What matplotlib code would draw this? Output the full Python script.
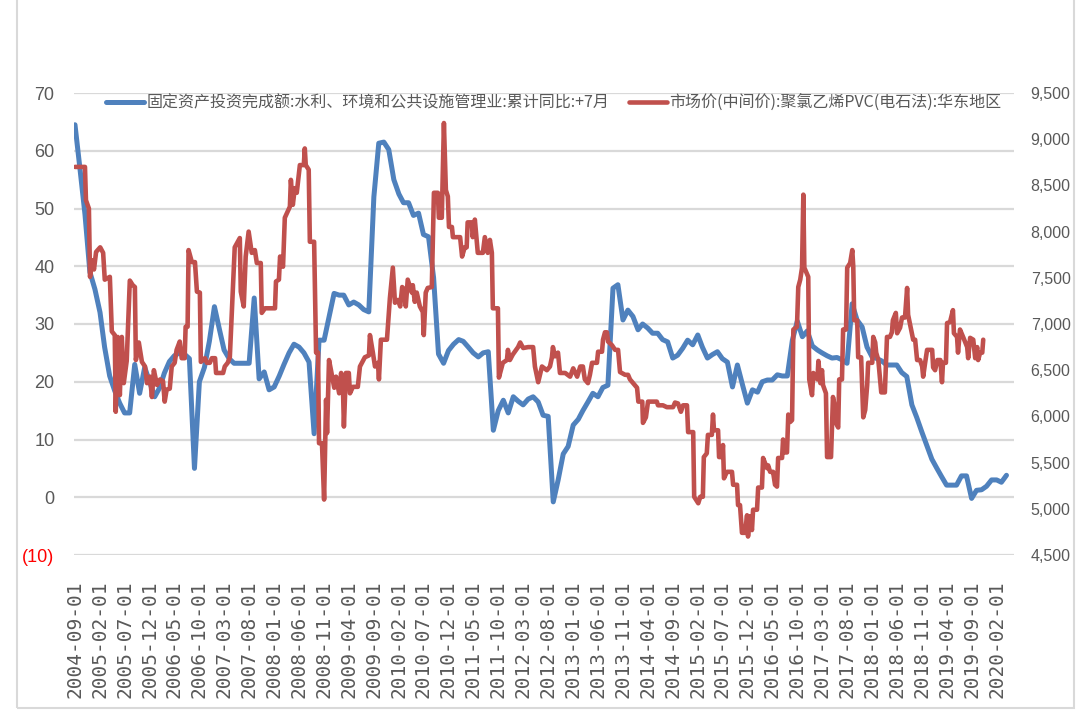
import matplotlib
matplotlib.use('Agg')
import matplotlib.pyplot as plt
from matplotlib.patches import Rectangle
from matplotlib.font_manager import FontProperties
import pandas as pd

# ---------------- data ----------------
blue_start = '2004-09-01'
blue_values = [
    64.5, 57, 49, 39,
    36, 32, 26, 21, 18.5, 16.3, 14.6, 14.6, 23, 18, 22.5, 20,
    17.4, 19, 21.5, 23.5, 24.5, 25, 24.8, 24, 5, 20, 22.5, 27,
    33, 29, 25.5, 24, 23.2, 23.2, 23.2, 23.2, 34.5, 20.5, 21.7, 18.6,
    19.1, 21, 23, 25, 26.5, 26, 25, 23.4, 11, 27.2, 27.2, 31.2,
    35.3, 35, 35, 33.3, 33.8, 33.3, 32.5, 32.1, 52, 61.3, 61.5, 60.2,
    55, 52.5, 51, 51, 48.8, 49.2, 45.5, 45.1, 38, 24.8, 23.2, 25.4,
    26.5, 27.3, 27, 26, 25, 24.3, 25, 25.2, 11.6, 15, 16.8, 14.6,
    17.4, 16.6, 16, 17, 17.4, 16.5, 14.2, 14, -0.8, 3, 7.5, 8.8,
    12.5, 13.5, 15, 16.5, 18, 17.4, 19, 19.4, 36.2, 36.8, 30.7, 32.4,
    31.3, 29, 30, 29.3, 28.4, 28.4, 27.3, 26.9, 24.1, 24.6, 25.8, 27.2,
    26.4, 28.1, 26, 24.1, 24.7, 25.2, 24, 23.4, 19.1, 22.9, 19.5, 16.3,
    18.6, 18.2, 20, 20.3, 20.3, 21.2, 21, 21, 27.2, 30.5, 27.8, 28.8,
    26.2, 25.5, 25, 24.5, 24.1, 24.2, 23.8, 23.2, 33.5, 30.7, 29.5, 26,
    24.3, 24, 23.6, 22.9, 22.9, 22.9, 21.6, 20.9, 16, 13.8, 11.3, 9,
    6.6, 5, 3.6, 2.1, 2.1, 2.1, 3.7, 3.7, -0.2, 1.2, 1.3, 1.9,
    3, 3, 2.6, 3.8,
]

red_dates = [
    '2004-09-01', '2004-11-01', '2004-11-07', '2004-11-25', '2004-12-02', '2004-12-14', '2004-12-26',
    '2005-01-08', '2005-02-02', '2005-02-20', '2005-03-02', '2005-04-02', '2005-04-14', '2005-05-02',
    '2005-05-08', '2005-05-20', '2005-06-02', '2005-06-14', '2005-06-26', '2005-07-14', '2005-08-02',
    '2005-08-20', '2005-09-02', '2005-09-08', '2005-09-26', '2005-10-15', '2005-11-03', '2005-11-15',
    '2005-12-03', '2005-12-15', '2005-12-27', '2006-01-15', '2006-02-03', '2006-02-21', '2006-03-03',
    '2006-03-15', '2006-04-03', '2006-04-15', '2006-05-03', '2006-05-15', '2006-06-03', '2006-06-15',
    '2006-07-03', '2006-07-09', '2006-07-21', '2006-07-27', '2006-08-16', '2006-09-04', '2006-09-16',
    '2006-10-04', '2006-10-10', '2006-11-04', '2006-11-16', '2006-12-04', '2006-12-16', '2007-01-05',
    '2007-01-11', '2007-02-23', '2007-03-05', '2007-03-23', '2007-04-05', '2007-04-17', '2007-05-05',
    '2007-06-05', '2007-06-11', '2007-06-29', '2007-07-11', '2007-07-29', '2007-08-17', '2007-09-05',
    '2007-09-17', '2007-10-11', '2007-10-17', '2007-11-06', '2008-01-06', '2008-01-12', '2008-01-30',
    '2008-02-06', '2008-02-24', '2008-03-06', '2008-04-06', '2008-04-12', '2008-04-24', '2008-05-06',
    '2008-05-18', '2008-06-06', '2008-06-30', '2008-07-06', '2008-07-12', '2008-07-30', '2008-08-06',
    '2008-09-01', '2008-09-13', '2008-09-25', '2008-10-01', '2008-10-19', '2008-11-01', '2008-11-13',
    '2008-11-19', '2008-12-01', '2008-12-13', '2009-01-02', '2009-01-13', '2009-02-01', '2009-02-13',
    '2009-02-25', '2009-03-02', '2009-03-14', '2009-04-01', '2009-04-08', '2009-04-26', '2009-05-26',
    '2009-06-08', '2009-07-08', '2009-08-02', '2009-08-08', '2009-08-26', '2009-09-08', '2009-09-26',
    '2009-10-02', '2009-10-14', '2009-11-20', '2009-12-08', '2009-12-26', '2010-01-08', '2010-01-26',
    '2010-02-09', '2010-02-21', '2010-03-09', '2010-03-15', '2010-03-27', '2010-04-21', '2010-04-27',
    '2010-05-09', '2010-05-21', '2010-06-09', '2010-06-27', '2010-07-03', '2010-07-15', '2010-07-27',
    '2010-08-21', '2010-09-03', '2010-09-27', '2010-10-03', '2010-10-21', '2010-11-03', '2010-11-15',
    '2010-11-27', '2010-12-04', '2010-12-22', '2010-12-28', '2011-02-10', '2011-02-22', '2011-03-10',
    '2011-03-22', '2011-03-28', '2011-04-22', '2011-04-28', '2011-05-11', '2011-05-29', '2011-06-29',
    '2011-07-11', '2011-07-29', '2011-08-11', '2011-08-23', '2011-08-29', '2011-09-29', '2011-10-05',
    '2011-10-29', '2011-11-23', '2011-11-29', '2011-12-11', '2011-12-29', '2012-01-30', '2012-02-12',
    '2012-03-01', '2012-04-01', '2012-05-01', '2012-05-12', '2012-06-01', '2012-06-24', '2012-07-24',
    '2012-08-12', '2012-08-24', '2012-08-30', '2012-09-12', '2012-09-30', '2012-10-12', '2012-11-13',
    '2012-12-13', '2013-01-01', '2013-01-25', '2013-02-13', '2013-03-01', '2013-03-13', '2013-04-01',
    '2013-04-13', '2013-04-26', '2013-05-26', '2013-06-02', '2013-06-26', '2013-07-02', '2013-07-14',
    '2013-07-26', '2013-08-02', '2013-08-26', '2013-09-14', '2013-10-02', '2013-10-14', '2013-11-14',
    '2013-12-02', '2013-12-14', '2014-01-02', '2014-01-26', '2014-02-03', '2014-02-27', '2014-03-03',
    '2014-03-21', '2014-04-03', '2014-05-27', '2014-06-03', '2014-07-03', '2014-07-27', '2014-09-03',
    '2014-09-15', '2014-10-03', '2014-10-21', '2014-11-03', '2014-11-27', '2014-12-04', '2015-01-04',
    '2015-01-10', '2015-02-04', '2015-02-16', '2015-03-04', '2015-03-10', '2015-03-28', '2015-04-04',
    '2015-04-28', '2015-05-05', '2015-05-11', '2015-06-05', '2015-06-11', '2015-06-29', '2015-07-05',
    '2015-07-11', '2015-07-29', '2015-08-29', '2015-09-05', '2015-09-29', '2015-10-05', '2015-10-17',
    '2015-10-29', '2015-11-17', '2015-11-29', '2015-12-05', '2015-12-17', '2015-12-29', '2016-01-05',
    '2016-01-29', '2016-02-05', '2016-02-28', '2016-03-06', '2016-03-30', '2016-04-06', '2016-04-18',
    '2016-05-06', '2016-05-18', '2016-05-30', '2016-06-06', '2016-06-30', '2016-07-06', '2016-07-18',
    '2016-07-30', '2016-08-07', '2016-08-19', '2016-08-30', '2016-09-07', '2016-09-29', '2016-10-07',
    '2016-10-19', '2016-10-30', '2016-11-07', '2016-11-13', '2016-12-07', '2016-12-13', '2016-12-30',
    '2017-01-07', '2017-02-01', '2017-02-07', '2017-02-19', '2017-03-01', '2017-03-07', '2017-03-25',
    '2017-04-01', '2017-04-25', '2017-05-07', '2017-05-19', '2017-05-25', '2017-06-08', '2017-06-14',
    '2017-07-01', '2017-07-08', '2017-07-26', '2017-08-02', '2017-08-20', '2017-09-02', '2017-09-08',
    '2017-09-14', '2017-10-02', '2017-10-08', '2017-10-26', '2017-11-08', '2017-11-20', '2017-12-02',
    '2017-12-08', '2018-01-02', '2018-01-08', '2018-01-20', '2018-01-26', '2018-02-08', '2018-02-26',
    '2018-03-20', '2018-04-02', '2018-04-20', '2018-05-02', '2018-05-08', '2018-05-26', '2018-06-03',
    '2018-06-21', '2018-07-03', '2018-07-21', '2018-08-03', '2018-08-09', '2018-09-09', '2018-09-21',
    '2018-10-03', '2018-10-21', '2018-11-03', '2018-11-09', '2018-11-21', '2018-12-03', '2019-01-03',
    '2019-01-09', '2019-01-21', '2019-02-04', '2019-02-22', '2019-03-04', '2019-03-10', '2019-03-28',
    '2019-04-04', '2019-04-22', '2019-05-10', '2019-05-16', '2019-06-04', '2019-06-10', '2019-06-22',
    '2019-07-11', '2019-08-05', '2019-08-11', '2019-08-23', '2019-09-11', '2019-09-23', '2019-10-05',
    '2019-10-11', '2019-10-23', '2019-11-05', '2019-11-11',
]
red_values = [
    8700, 8700, 8340, 8250, 7510, 7690, 7590,
    7780, 7830, 7770, 7480, 7510, 6920, 6880,
    6050, 6860, 6230, 6860, 6360, 6600, 7470,
    7420, 7400, 6610, 6800, 6590, 6540, 6360,
    6430, 6210, 6500, 6340, 6400, 6380, 6160,
    6290, 6300, 6540, 6580, 6720, 6810, 6630,
    6630, 6970, 6970, 7800, 7670, 7670, 7350,
    7340, 6590, 6630, 6580, 6580, 6630, 6630,
    6470, 6470, 6540, 6580, 6640, 7120, 7830,
    7930, 7350, 7190, 7730, 8000, 7770, 7800,
    7660, 7660, 7120, 7170, 7170, 7460, 7480,
    7730, 7620, 8150, 8270, 8560, 8290, 8470,
    8420, 8720, 8720, 8900, 8720, 8670, 7890,
    7890, 6690, 6690, 5710, 5710, 5100, 6180,
    5820, 6610, 6500, 6310, 6430, 6250, 6470,
    6250, 5890, 6470, 6470, 6250, 6320, 6320,
    6540, 6640, 6660, 6880, 6690, 6540, 6580,
    6400, 6830, 6830, 7280, 7610, 7230, 7260,
    7190, 7400, 7370, 7190, 7480, 7340, 7420,
    7240, 7340, 7190, 7130, 6880, 7340, 7390,
    7400, 8420, 8420, 8150, 8150, 9175, 8450,
    8380, 8050, 8050, 7940, 7940, 7730, 7830,
    7830, 8100, 8100, 7940, 8130, 7770, 7770,
    7940, 7770, 7910, 7770, 7170, 7170, 6420,
    6580, 6610, 6720, 6610, 6670, 6750, 6800,
    6740, 6750, 6750, 6540, 6370, 6540, 6500,
    6540, 6640, 6750, 6650, 6690, 6470, 6470,
    6430, 6520, 6430, 6540, 6540, 6400, 6360,
    6450, 6580, 6580, 6700, 6700, 6830, 6910,
    6910, 6810, 6770, 6720, 6720, 6480, 6450,
    6450, 6400, 6360, 6310, 6160, 6160, 5930,
    5990, 6160, 6160, 6120, 6120, 6100, 6100,
    6150, 6140, 6050, 6120, 6120, 5830, 5830,
    5130, 5060, 5130, 5130, 5560, 5600, 5800,
    5800, 6020, 5850, 5850, 5560, 5560, 5690,
    5330, 5400, 5400, 5260, 5260, 5040, 5040,
    4740, 4740, 4930, 4700, 4920, 4770, 4990,
    4990, 5230, 5230, 5550, 5440, 5470, 5400,
    5400, 5260, 5240, 5550, 5550, 5750, 5610,
    5610, 6020, 5940, 5960, 6940, 6970, 7400,
    7480, 7610, 8400, 7610, 7510, 6400, 6230,
    6470, 6400, 6600, 6360, 6500, 6340, 6250,
    5560, 5560, 6210, 6100, 5930, 5880, 6400,
    6400, 6940, 6940, 7610, 7660, 7800, 7620,
    7040, 7040, 6640, 6640, 5990, 6070, 6340,
    6580, 6580, 6860, 6800, 6690, 6610, 6260,
    6260, 6860, 6860, 6910, 7040, 7120, 6900,
    6960, 7070, 7070, 7390, 7100, 6830, 6830,
    6610, 6610, 6540, 6430, 6580, 6720, 6720,
    6530, 6500, 6610, 6610, 6370, 6580, 6580,
    7010, 7020, 7150, 6900, 6860, 6690, 6940,
    6860, 6750, 6630, 6850, 6830, 6630, 6750,
    6610, 6690, 6690, 6830,
]

legend_labels = ['固定资产投资完成额:水利、环境和公共设施管理业:累计同比:+7月',
                 '市场价(中间价):聚氯乙烯PVC(电石法):华东地区']
left_ticks = [70, 60, 50, 40, 30, 20, 10, 0, -10]
left_tick_labels = ['70', '60', '50', '40', '30', '20', '10', '0', '(10)']
right_ticks = [9500, 9000, 8500, 8000, 7500, 7000, 6500, 6000, 5500, 5000, 4500]
x_tick_start = '2004-09-01'
x_tick_end = '2020-02-01'

# ---------------- styling ----------------
BLUE = '#4F81BD'
RED = '#C0504D'
GRAY = '#595959'
GRID = '#D9D9D9'
num_font = ['Liberation Sans Narrow', 'Liberation Sans', 'DejaVu Sans']
cjk_font = ['Noto Sans CJK SC', 'DejaVu Sans']

W, H = 1091, 711
fig = plt.figure(figsize=(W / 100, H / 100), dpi=100)
fig.patch.set_facecolor('white')

left, right, top, bottom = 74, 1014, 93, 555
ax = fig.add_axes([left / W, 1 - bottom / H, (right - left) / W, (bottom - top) / H])
ax2 = ax.twinx()

blue_dates = pd.date_range(blue_start, periods=len(blue_values), freq='MS')
red_dt = pd.to_datetime(red_dates)

l1, = ax.plot(blue_dates, blue_values, color=BLUE, lw=3.6, solid_joinstyle='round',
              solid_capstyle='round')
l2, = ax2.plot(red_dt, red_values, color=RED, lw=3.3, solid_joinstyle='round',
               solid_capstyle='round')

ax.set_xlim(pd.Timestamp('2004-08-26'), pd.Timestamp('2020-05-17'))
ax.set_ylim(-10, 70)
ax2.set_ylim(4500, 9500)

# grid
ax.set_yticks(left_ticks)
ax.set_yticklabels(left_tick_labels)
ax.yaxis.grid(True, color=GRID, lw=1.6)
ax.set_axisbelow(True)
ax2.set_yticks(right_ticks)
ax2.set_yticklabels([f'{v:,}' for v in right_ticks])

for a in (ax, ax2):
    for s in a.spines.values():
        s.set_visible(False)

ax.tick_params(axis='y', length=0, pad=14, labelsize=13, labelcolor=GRAY)
ax2.tick_params(axis='y', length=0, pad=12, labelsize=11.5, labelcolor=GRAY)
for lbl in ax.get_yticklabels() + ax2.get_yticklabels():
    lbl.set_fontfamily(num_font)
for lbl in ax.get_yticklabels():
    if lbl.get_text().startswith('('):
        lbl.set_color('#FF0000')

xt = pd.date_range(x_tick_start, x_tick_end, freq='5MS')
ax.set_xticks(xt)
ax.set_xticklabels([d.strftime('%Y-%m-%d') for d in xt], rotation=90,
                   fontfamily='DejaVu Sans Mono', fontsize=14, color=GRAY)
ax.tick_params(axis='x', length=0, pad=18)

# legend
fig.legend([l1, l2], legend_labels, ncol=2, loc='center left',
           bbox_to_anchor=(106 / W, 1 - 103 / H), frameon=False,
           prop=FontProperties(family=cjk_font, size=11.5), labelcolor=GRAY,
           handlelength=2.4, handletextpad=0.15, columnspacing=1.2,
           borderaxespad=0, borderpad=0)

# outer chart frame
fig.patches.append(Rectangle((17 / W, 3 / H), (1074 - 17) / W, 1.2, transform=fig.transFigure,
                             fill=False, edgecolor=GRID, lw=1.5))

fig.savefig('out.png', dpi=100)
